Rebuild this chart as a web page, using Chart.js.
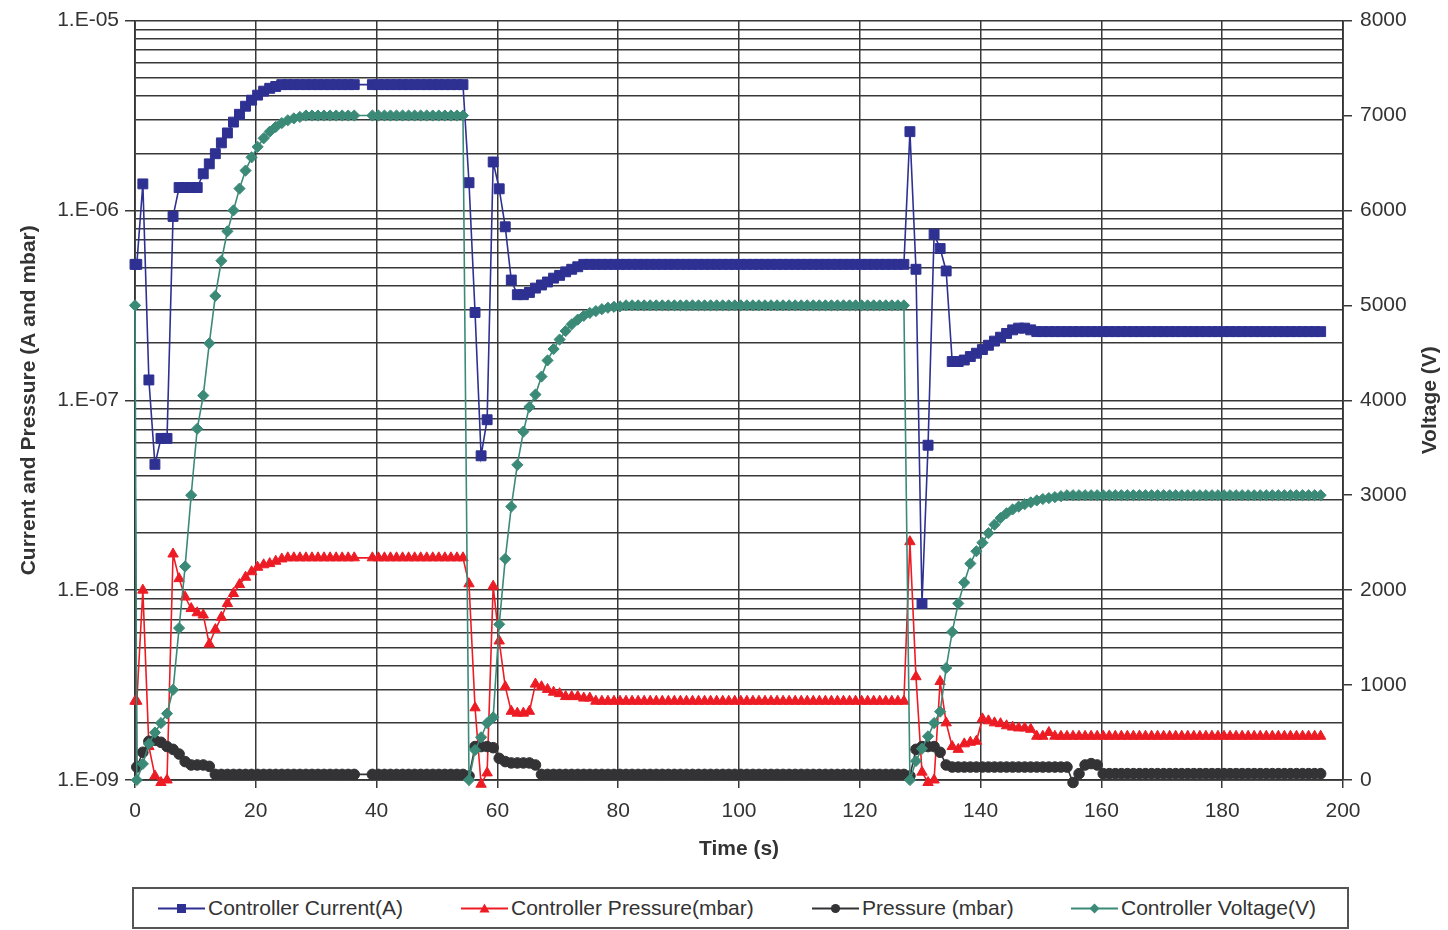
<!DOCTYPE html>
<html>
<head>
<meta charset="utf-8">
<script src="https://cdn.jsdelivr.net/npm/chart.js@4.4.1/dist/chart.umd.min.js"></script>
<style>
  html, body { margin: 0; padding: 0; background: #fff; }
  body { width: 1448px; height: 930px; position: relative; overflow: hidden; font-family: "Liberation Sans", Arial, sans-serif; }
  #wrap { position: absolute; left: 0; top: 0; width: 1448px; height: 880px; }
  #legend { position: absolute; left: 132px; top: 887px; width: 1213px; height: 38px; border: 2px solid #555; background: #fff; }
  .item { position: absolute; top: 0; height: 38px; display: flex; align-items: center; font-size: 21px; color: #333; white-space: nowrap; }
  .item svg { margin-right: 3px; }
</style>
</head>
<body>
<div id="wrap"><canvas id="chart"></canvas></div>
<div id="legend"></div>
<script>
// sample times (s), one sample per second
const times = [
  0, 0.3, 1.3, 2.3, 3.3, 4.3, 5.3, 6.3, 7.3, 8.3,
  9.3, 10.3, 11.3, 12.3, 13.3, 14.3, 15.3, 16.3, 17.3, 18.3,
  19.3, 20.3, 21.3, 22.3, 23.3, 24.3, 25.3, 26.3, 27.3, 28.3,
  29.3, 30.3, 31.3, 32.3, 33.3, 34.3, 35.3, 36.3, 37.3, 38.3,
  39.3, 40.3, 41.3, 42.3, 43.3, 44.3, 45.3, 46.3, 47.3, 48.3,
  49.3, 50.3, 51.3, 52.3, 53.3, 54.3, 55.3, 56.3, 57.3, 58.3,
  59.3, 60.3, 61.3, 62.3, 63.3, 64.3, 65.3, 66.3, 67.3, 68.3,
  69.3, 70.3, 71.3, 72.3, 73.3, 74.3, 75.3, 76.3, 77.3, 78.3,
  79.3, 80.3, 81.3, 82.3, 83.3, 84.3, 85.3, 86.3, 87.3, 88.3,
  89.3, 90.3, 91.3, 92.3, 93.3, 94.3, 95.3, 96.3, 97.3, 98.3,
  99.3, 100.3, 101.3, 102.3, 103.3, 104.3, 105.3, 106.3, 107.3, 108.3,
  109.3, 110.3, 111.3, 112.3, 113.3, 114.3, 115.3, 116.3, 117.3, 118.3,
  119.3, 120.3, 121.3, 122.3, 123.3, 124.3, 125.3, 126.3, 127.3, 128.3,
  129.3, 130.3, 131.3, 132.3, 133.3, 134.3, 135.3, 136.3, 137.3, 138.3,
  139.3, 140.3, 141.3, 142.3, 143.3, 144.3, 145.3, 146.3, 147.3, 148.3,
  149.3, 150.3, 151.3, 152.3, 153.3, 154.3, 155.3, 156.3, 157.3, 158.3,
  159.3, 160.3, 161.3, 162.3, 163.3, 164.3, 165.3, 166.3, 167.3, 168.3,
  169.3, 170.3, 171.3, 172.3, 173.3, 174.3, 175.3, 176.3, 177.3, 178.3,
  179.3, 180.3, 181.3, 182.3, 183.3, 184.3, 185.3, 186.3, 187.3, 188.3,
  189.3, 190.3, 191.3, 192.3, 193.3, 194.3, 195.3, 196.3
];

// Controller Current (A)
const controllerCurrent = [
  5.2e-7, 5.2e-7, 1.38e-6, 1.28e-7, 4.6e-8, 6.3e-8, 6.3e-8, 9.3e-7, 1.32e-6, 1.32e-6,
  1.32e-6, 1.32e-6, 1.56e-6, 1.76e-6, 1.99e-6, 2.27e-6, 2.56e-6, 2.92e-6, 3.21e-6, 3.54e-6,
  3.81e-6, 4.05e-6, 4.25e-6, 4.4e-6, 4.5e-6, 4.6e-6, 4.6e-6, 4.6e-6, 4.6e-6, 4.6e-6,
  4.6e-6, 4.6e-6, 4.6e-6, 4.6e-6, 4.6e-6, 4.6e-6, 4.6e-6, 4.6e-6, null, null,
  4.6e-6, 4.6e-6, 4.6e-6, 4.6e-6, 4.6e-6, 4.6e-6, 4.6e-6, 4.6e-6, 4.6e-6, 4.6e-6,
  4.6e-6, 4.6e-6, 4.6e-6, 4.6e-6, 4.6e-6, 4.6e-6, 1.4e-6, 2.9e-7, 5.1e-8, 7.9e-8,
  1.8e-6, 1.3e-6, 8.2e-7, 4.3e-7, 3.6e-7, 3.6e-7, 3.7e-7, 3.9e-7, 4.05e-7, 4.2e-7,
  4.4e-7, 4.55e-7, 4.75e-7, 4.9e-7, 5.05e-7, 5.2e-7, 5.2e-7, 5.2e-7, 5.2e-7, 5.2e-7,
  5.2e-7, 5.2e-7, 5.2e-7, 5.2e-7, 5.2e-7, 5.2e-7, 5.2e-7, 5.2e-7, 5.2e-7, 5.2e-7,
  5.2e-7, 5.2e-7, 5.2e-7, 5.2e-7, 5.2e-7, 5.2e-7, 5.2e-7, 5.2e-7, 5.2e-7, 5.2e-7,
  5.2e-7, 5.2e-7, 5.2e-7, 5.2e-7, 5.2e-7, 5.2e-7, 5.2e-7, 5.2e-7, 5.2e-7, 5.2e-7,
  5.2e-7, 5.2e-7, 5.2e-7, 5.2e-7, 5.2e-7, 5.2e-7, 5.2e-7, 5.2e-7, 5.2e-7, 5.2e-7,
  5.2e-7, 5.2e-7, 5.2e-7, 5.2e-7, 5.2e-7, 5.2e-7, 5.2e-7, 5.2e-7, 5.2e-7, 2.6e-6,
  4.9e-7, 8.5e-9, 5.8e-8, 7.5e-7, 6.3e-7, 4.8e-7, 1.6e-7, 1.6e-7, 1.63e-7, 1.7e-7,
  1.77e-7, 1.85e-7, 1.95e-7, 2.05e-7, 2.15e-7, 2.25e-7, 2.35e-7, 2.4e-7, 2.4e-7, 2.35e-7,
  2.3e-7, 2.3e-7, 2.3e-7, 2.3e-7, 2.3e-7, 2.3e-7, 2.3e-7, 2.3e-7, 2.3e-7, 2.3e-7,
  2.3e-7, 2.3e-7, 2.3e-7, 2.3e-7, 2.3e-7, 2.3e-7, 2.3e-7, 2.3e-7, 2.3e-7, 2.3e-7,
  2.3e-7, 2.3e-7, 2.3e-7, 2.3e-7, 2.3e-7, 2.3e-7, 2.3e-7, 2.3e-7, 2.3e-7, 2.3e-7,
  2.3e-7, 2.3e-7, 2.3e-7, 2.3e-7, 2.3e-7, 2.3e-7, 2.3e-7, 2.3e-7, 2.3e-7, 2.3e-7,
  2.3e-7, 2.3e-7, 2.3e-7, 2.3e-7, 2.3e-7, 2.3e-7, 2.3e-7, 2.3e-7
];

// Controller Pressure (mbar)
const controllerPressure = [
  2.6e-9, 2.6e-9, 1.0e-8, 1.5e-9, 1.05e-9, 0.97e-9, 1.0e-9, 1.55e-8, 1.15e-8, 9.2e-9,
  8.0e-9, 7.6e-9, 7.4e-9, 5.2e-9, 6.2e-9, 7.2e-9, 8.5e-9, 9.6e-9, 1.07e-8, 1.17e-8,
  1.25e-8, 1.32e-8, 1.36e-8, 1.38e-8, 1.42e-8, 1.46e-8, 1.48e-8, 1.48e-8, 1.48e-8, 1.48e-8,
  1.48e-8, 1.48e-8, 1.48e-8, 1.48e-8, 1.48e-8, 1.48e-8, 1.48e-8, 1.48e-8, null, null,
  1.48e-8, 1.48e-8, 1.48e-8, 1.48e-8, 1.48e-8, 1.48e-8, 1.48e-8, 1.48e-8, 1.48e-8, 1.48e-8,
  1.48e-8, 1.48e-8, 1.48e-8, 1.48e-8, 1.48e-8, 1.48e-8, 1.08e-8, 2.4e-9, 0.95e-9, 1.09e-9,
  1.05e-8, 5.4e-9, 3.1e-9, 2.3e-9, 2.25e-9, 2.25e-9, 2.3e-9, 3.2e-9, 3.1e-9, 3.0e-9,
  2.9e-9, 2.85e-9, 2.75e-9, 2.75e-9, 2.75e-9, 2.7e-9, 2.7e-9, 2.6e-9, 2.6e-9, 2.6e-9,
  2.6e-9, 2.6e-9, 2.6e-9, 2.6e-9, 2.6e-9, 2.6e-9, 2.6e-9, 2.6e-9, 2.6e-9, 2.6e-9,
  2.6e-9, 2.6e-9, 2.6e-9, 2.6e-9, 2.6e-9, 2.6e-9, 2.6e-9, 2.6e-9, 2.6e-9, 2.6e-9,
  2.6e-9, 2.6e-9, 2.6e-9, 2.6e-9, 2.6e-9, 2.6e-9, 2.6e-9, 2.6e-9, 2.6e-9, 2.6e-9,
  2.6e-9, 2.6e-9, 2.6e-9, 2.6e-9, 2.6e-9, 2.6e-9, 2.6e-9, 2.6e-9, 2.6e-9, 2.6e-9,
  2.6e-9, 2.6e-9, 2.6e-9, 2.6e-9, 2.6e-9, 2.6e-9, 2.6e-9, 2.6e-9, 2.6e-9, 1.8e-8,
  3.5e-9, 1.1e-9, 0.97e-9, 1.0e-9, 3.3e-9, 2.0e-9, 1.5e-9, 1.45e-9, 1.55e-9, 1.58e-9,
  1.6e-9, 2.1e-9, 2.05e-9, 2.0e-9, 1.98e-9, 1.93e-9, 1.9e-9, 1.88e-9, 1.88e-9, 1.85e-9,
  1.7e-9, 1.7e-9, 1.78e-9, 1.7e-9, 1.7e-9, 1.7e-9, 1.7e-9, 1.7e-9, 1.7e-9, 1.7e-9,
  1.7e-9, 1.7e-9, 1.7e-9, 1.7e-9, 1.7e-9, 1.7e-9, 1.7e-9, 1.7e-9, 1.7e-9, 1.7e-9,
  1.7e-9, 1.7e-9, 1.7e-9, 1.7e-9, 1.7e-9, 1.7e-9, 1.7e-9, 1.7e-9, 1.7e-9, 1.7e-9,
  1.7e-9, 1.7e-9, 1.7e-9, 1.7e-9, 1.7e-9, 1.7e-9, 1.7e-9, 1.7e-9, 1.7e-9, 1.7e-9,
  1.7e-9, 1.7e-9, 1.7e-9, 1.7e-9, 1.7e-9, 1.7e-9, 1.7e-9, 1.7e-9
];

// Pressure (mbar)
const pressure = [
  5.2e-8, 1.17e-9, 1.4e-9, 1.6e-9, 1.62e-9, 1.58e-9, 1.5e-9, 1.45e-9, 1.37e-9, 1.25e-9,
  1.2e-9, 1.2e-9, 1.2e-9, 1.18e-9, 1.07e-9, 1.07e-9, 1.07e-9, 1.07e-9, 1.07e-9, 1.07e-9,
  1.07e-9, 1.07e-9, 1.07e-9, 1.07e-9, 1.07e-9, 1.07e-9, 1.07e-9, 1.07e-9, 1.07e-9, 1.07e-9,
  1.07e-9, 1.07e-9, 1.07e-9, 1.07e-9, 1.07e-9, 1.07e-9, 1.07e-9, 1.07e-9, null, null,
  1.07e-9, 1.07e-9, 1.07e-9, 1.07e-9, 1.07e-9, 1.07e-9, 1.07e-9, 1.07e-9, 1.07e-9, 1.07e-9,
  1.07e-9, 1.07e-9, 1.07e-9, 1.07e-9, 1.07e-9, 1.07e-9, 1.05e-9, 1.5e-9, 1.5e-9, 1.5e-9,
  1.48e-9, 1.3e-9, 1.25e-9, 1.23e-9, 1.23e-9, 1.23e-9, 1.23e-9, 1.2e-9, 1.07e-9, 1.07e-9,
  1.07e-9, 1.07e-9, 1.07e-9, 1.07e-9, 1.07e-9, 1.07e-9, 1.07e-9, 1.07e-9, 1.07e-9, 1.07e-9,
  1.07e-9, 1.07e-9, 1.07e-9, 1.07e-9, 1.07e-9, 1.07e-9, 1.07e-9, 1.07e-9, 1.07e-9, 1.07e-9,
  1.07e-9, 1.07e-9, 1.07e-9, 1.07e-9, 1.07e-9, 1.07e-9, 1.07e-9, 1.07e-9, 1.07e-9, 1.07e-9,
  1.07e-9, 1.07e-9, 1.07e-9, 1.07e-9, 1.07e-9, 1.07e-9, 1.07e-9, 1.07e-9, 1.07e-9, 1.07e-9,
  1.07e-9, 1.07e-9, 1.07e-9, 1.07e-9, 1.07e-9, 1.07e-9, 1.07e-9, 1.07e-9, 1.07e-9, 1.07e-9,
  1.07e-9, 1.07e-9, 1.07e-9, 1.07e-9, 1.07e-9, 1.07e-9, 1.07e-9, 1.07e-9, 1.07e-9, 1.05e-9,
  1.45e-9, 1.5e-9, 1.5e-9, 1.5e-9, 1.4e-9, 1.2e-9, 1.17e-9, 1.17e-9, 1.17e-9, 1.17e-9,
  1.17e-9, 1.17e-9, 1.17e-9, 1.17e-9, 1.17e-9, 1.17e-9, 1.17e-9, 1.17e-9, 1.17e-9, 1.17e-9,
  1.17e-9, 1.17e-9, 1.17e-9, 1.17e-9, 1.17e-9, 1.17e-9, 0.97e-9, 1.08e-9, 1.2e-9, 1.22e-9,
  1.2e-9, 1.08e-9, 1.08e-9, 1.08e-9, 1.08e-9, 1.08e-9, 1.08e-9, 1.08e-9, 1.08e-9, 1.08e-9,
  1.08e-9, 1.08e-9, 1.08e-9, 1.08e-9, 1.08e-9, 1.08e-9, 1.08e-9, 1.08e-9, 1.08e-9, 1.08e-9,
  1.08e-9, 1.08e-9, 1.08e-9, 1.08e-9, 1.08e-9, 1.08e-9, 1.08e-9, 1.08e-9, 1.08e-9, 1.08e-9,
  1.08e-9, 1.08e-9, 1.08e-9, 1.08e-9, 1.08e-9, 1.08e-9, 1.08e-9, 1.08e-9
];

// Controller Voltage (V), right axis
const controllerVoltage = [
  5000, 0, 170, 380, 500, 600, 700, 950, 1600, 2250,
  3000, 3700, 4050, 4600, 5100, 5470, 5780, 6000, 6230, 6420,
  6560, 6670, 6760, 6830, 6880, 6920, 6950, 6970, 6985, 7000,
  7000, 7000, 7000, 7000, 7000, 7000, 7000, 7000, null, null,
  7000, 7000, 7000, 7000, 7000, 7000, 7000, 7000, 7000, 7000,
  7000, 7000, 7000, 7000, 7000, 7000, 0, 315, 450, 600,
  660, 1640, 2330, 2880, 3320, 3670, 3930, 4060, 4250, 4420,
  4540, 4640, 4730, 4800, 4850, 4890, 4920, 4940, 4960, 4975,
  4985, 4990, 5000, 5000, 5000, 5000, 5000, 5000, 5000, 5000,
  5000, 5000, 5000, 5000, 5000, 5000, 5000, 5000, 5000, 5000,
  5000, 5000, 5000, 5000, 5000, 5000, 5000, 5000, 5000, 5000,
  5000, 5000, 5000, 5000, 5000, 5000, 5000, 5000, 5000, 5000,
  5000, 5000, 5000, 5000, 5000, 5000, 5000, 5000, 5000, 0,
  200, 330, 460, 600, 720, 1180, 1560, 1860, 2080, 2280,
  2410, 2500, 2600, 2690, 2760, 2810, 2850, 2880, 2905, 2925,
  2945, 2960, 2970, 2980, 2990, 3000, 3000, 3000, 3000, 3000,
  3000, 3000, 3000, 3000, 3000, 3000, 3000, 3000, 3000, 3000,
  3000, 3000, 3000, 3000, 3000, 3000, 3000, 3000, 3000, 3000,
  3000, 3000, 3000, 3000, 3000, 3000, 3000, 3000, 3000, 3000,
  3000, 3000, 3000, 3000, 3000, 3000, 3000, 3000
];

const timeTicks = [0, 20, 40, 60, 80, 100, 120, 140, 160, 180, 200];
const voltageTicks = [0, 1000, 2000, 3000, 4000, 5000, 6000, 7000, 8000];
const decadeValues = [1e-9, 1e-8, 1e-7, 1e-6, 1e-5];
const decadeLabels = ['1.E-09', '1.E-08', '1.E-07', '1.E-06', '1.E-05'];
const minorSteps = [2, 3, 4, 5, 6, 7, 8, 9];

const seriesNames = ['Controller Current(A)', 'Controller Pressure(mbar)', 'Pressure (mbar)', 'Controller Voltage(V)'];
const seriesColors = ['#2E3192', '#ED1C24', '#333336', '#3B8A78'];
const seriesMarkers = ['rect', 'triangle', 'circle', 'rectRot'];
const xTitle = 'Time (s)';
const leftTitle = 'Current and Pressure (A and mbar)';
const rightTitle = 'Voltage (V)';

const fontFamily = '"Liberation Sans", Arial, sans-serif';
const textColor = '#333';
const gridColor = '#383838';

// log gridlines: every decade plus 2..9 inside it
const logGrid = [];
decadeValues.forEach((d, i) => {
    logGrid.push(d);
    if (i < decadeValues.length - 1) minorSteps.forEach(m => logGrid.push(m * d));
});
logGrid.sort((a, b) => a - b);

function isDecade(v) {
    return decadeValues.findIndex(d => Math.abs(v / d - 1) < 1e-6);
}

function makeData(values) {
    return times.map((t, i) => ({ x: t, y: values[i] }));
}

const markerRadius = [7, 6, 5.3, 5.6];

const datasets = [controllerCurrent, controllerPressure, pressure, controllerVoltage].map((vals, i) => ({
    label: seriesNames[i],
    data: makeData(vals),
    yAxisID: i === 3 ? 'y1' : 'y',
    borderColor: seriesColors[i],
    backgroundColor: seriesColors[i],
    pointBackgroundColor: seriesColors[i],
    pointBorderColor: seriesColors[i],
    pointBorderWidth: 1,
    pointStyle: seriesMarkers[i],
    pointRadius: i === 2 ? (c => c.dataIndex === 0 ? 0 : markerRadius[i]) : markerRadius[i],
    borderWidth: 1.6,
    tension: 0,
    spanGaps: true,
    clip: 10,
    order: 3 - i
}));

// right axis title reads bottom-to-top like the left one
const voltageTitlePlugin = {
    id: 'voltageTitle',
    afterDraw(chart) {
        const s = chart.scales.y1;
        const ctx = chart.ctx;
        ctx.save();
        ctx.translate(s.right - 18, (s.top + s.bottom) / 2);
        ctx.rotate(-Math.PI / 2);
        ctx.font = 'bold 21px ' + fontFamily;
        ctx.fillStyle = textColor;
        ctx.textAlign = 'center';
        ctx.textBaseline = 'middle';
        ctx.fillText(rightTitle, 0, 0);
        ctx.restore();
    }
};

const tickFont = { family: fontFamily, size: 21 };
const titleFont = { family: fontFamily, size: 21, weight: 'bold' };

new Chart(document.getElementById('chart'), {
    type: 'line',
    data: { datasets },
    options: {
        responsive: true,
        maintainAspectRatio: false,
        animation: false,
        events: [],
        layout: { padding: { top: 17, left: 0, right: 0, bottom: 0 } },
        plugins: { legend: { display: false }, tooltip: { enabled: false } },
        scales: {
            x: {
                type: 'linear',
                min: 0,
                max: 200,
                afterBuildTicks: s => { s.ticks = timeTicks.map(v => ({ value: v })); },
                afterFit: s => { s.height = 100; },
                grid: { color: gridColor, lineWidth: 1.5, tickLength: 8, tickColor: gridColor },
                border: { color: '#333', width: 1.8 },
                ticks: { font: tickFont, color: textColor, padding: 11, maxRotation: 0, autoSkip: false },
                title: { display: true, text: xTitle, font: titleFont, color: textColor, padding: { top: 0, bottom: 18 } }
            },
            y: {
                type: 'logarithmic',
                position: 'left',
                min: 1e-9,
                max: 1e-5,
                afterBuildTicks: s => { s.ticks = logGrid.map(v => ({ value: v })); },
                afterFit: s => { s.width = 135; },
                grid: {
                    color: gridColor,
                    lineWidth: 1.5,
                    tickLength: 10,
                    tickColor: c => (c.tick && isDecade(c.tick.value) >= 0) ? gridColor : 'rgba(0,0,0,0)'
                },
                border: { color: '#333', width: 1.8 },
                ticks: {
                    font: tickFont,
                    color: textColor,
                    padding: 6,
                    autoSkip: false,
                    callback: v => { const i = isDecade(v); return i >= 0 ? decadeLabels[i] : ''; }
                },
                title: { display: true, text: leftTitle, font: titleFont, color: textColor, padding: { top: 17, bottom: 0 } }
            },
            y1: {
                type: 'linear',
                position: 'right',
                min: 0,
                max: 8000,
                afterBuildTicks: s => { s.ticks = voltageTicks.map(v => ({ value: v })); },
                afterFit: s => { s.width = 105; },
                grid: { drawOnChartArea: false, color: gridColor, lineWidth: 1.5, tickLength: 9, tickColor: gridColor },
                border: { color: '#333', width: 1.8 },
                ticks: { font: tickFont, color: textColor, padding: 8, autoSkip: false, callback: v => String(v) }
            }
        }
    },
    plugins: [voltageTitlePlugin]
});

// legend: line with the series marker, then the name
function markerSvg(i) {
    const c = seriesColors[i];
    let shape = '';
    if (seriesMarkers[i] === 'rect') shape = `<rect x="19" y="2" width="9" height="9" fill="${c}"/>`;
    if (seriesMarkers[i] === 'triangle') shape = `<polygon points="23.5,1.5 28.5,10.5 18.5,10.5" fill="${c}"/>`;
    if (seriesMarkers[i] === 'circle') shape = `<circle cx="23.5" cy="6.5" r="4.6" fill="${c}"/>`;
    if (seriesMarkers[i] === 'rectRot') shape = `<polygon points="23.5,1.5 28.5,6.5 23.5,11.5 18.5,6.5" fill="${c}"/>`;
    return `<svg width="47" height="13" viewBox="0 0 47 13"><line x1="0" y1="6.5" x2="47" y2="6.5" stroke="${c}" stroke-width="1.8"/>${shape}</svg>`;
}

const legendLefts = [24, 327, 678, 937];
const legend = document.getElementById('legend');
seriesNames.forEach((name, i) => {
    const el = document.createElement('div');
    el.className = 'item';
    el.style.left = legendLefts[i] + 'px';
    el.innerHTML = markerSvg(i) + '<span>' + name + '</span>';
    legend.appendChild(el);
});
</script>
</body>
</html>
